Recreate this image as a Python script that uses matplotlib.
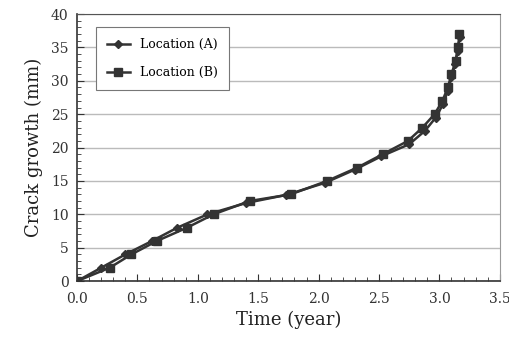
import matplotlib
matplotlib.use('Agg')
import matplotlib.pyplot as plt
from matplotlib.ticker import MultipleLocator, FormatStrFormatter

# Data
time_a = [0.0, 0.20, 0.40, 0.62, 0.83, 1.08, 1.40, 1.73, 2.05, 2.30, 2.52, 2.75, 2.88, 2.97, 3.03, 3.07, 3.10, 3.13, 3.15, 3.17]
crack_a = [0.0, 2.0, 4.0, 6.0, 8.0, 10.0, 11.7, 12.9, 14.7, 16.7, 18.7, 20.5, 22.5, 24.5, 26.5, 28.5, 30.5, 32.5, 34.5, 36.5]

time_b = [0.0, 0.27, 0.45, 0.66, 0.91, 1.13, 1.43, 1.77, 2.07, 2.32, 2.53, 2.74, 2.86, 2.96, 3.025, 3.07, 3.10, 3.135, 3.155, 3.165]
crack_b = [0.0, 2.0, 4.0, 6.0, 8.0, 10.0, 12.0, 13.0, 15.0, 17.0, 19.0, 21.0, 23.0, 25.0, 27.0, 29.0, 31.0, 33.0, 35.0, 37.0]

plt.rcParams['font.family'] = ['DejaVu Serif']

fig = plt.figure(figsize=(5.1, 3.42), dpi=100)
ax = fig.add_axes([0.151, 0.178, 0.829, 0.781])

ax.plot(time_a, crack_a, color='#333333', marker='D', markersize=4, linewidth=1.8, label='Location (A)')
ax.plot(time_b, crack_b, color='#333333', marker='s', markersize=6, linewidth=1.8, label='Location (B)')

ax.set_xlim(0, 3.5)
ax.set_ylim(0, 40)
ax.xaxis.set_major_locator(MultipleLocator(0.5))
ax.xaxis.set_minor_locator(MultipleLocator(0.1))
ax.yaxis.set_major_locator(MultipleLocator(5))
ax.yaxis.set_minor_locator(MultipleLocator(1))
ax.xaxis.set_major_formatter(FormatStrFormatter('%.1f'))
ax.tick_params(which='both', direction='in', labelsize=10, colors='#333333')
ax.tick_params(which='major', length=5)
ax.tick_params(which='minor', length=3)
ax.tick_params(axis='x', pad=8)
ax.tick_params(axis='y', pad=6)
ax.grid(axis='y', color='#bbbbbb', linewidth=1)
ax.set_axisbelow(True)

for side in ['left', 'bottom']:
    ax.spines[side].set_color('#333333')
    ax.spines[side].set_linewidth(1.2)
ax.spines['top'].set_color('#555555')
ax.spines['right'].set_color('#999999')

ax.set_xlabel('Time (year)', fontsize=13, color='#222222', labelpad=3)
ax.set_ylabel('Crack growth (mm)', fontsize=13, color='#222222', labelpad=6)

leg = ax.legend(loc='upper left', bbox_to_anchor=(0.03, 0.975), fontsize=9, frameon=True, fancybox=False,
                edgecolor='#777777', framealpha=1, handlelength=1.8, labelspacing=1.2, borderpad=0.9)
leg.get_frame().set_linewidth(0.8)

fig.savefig('out.png', dpi=100)
